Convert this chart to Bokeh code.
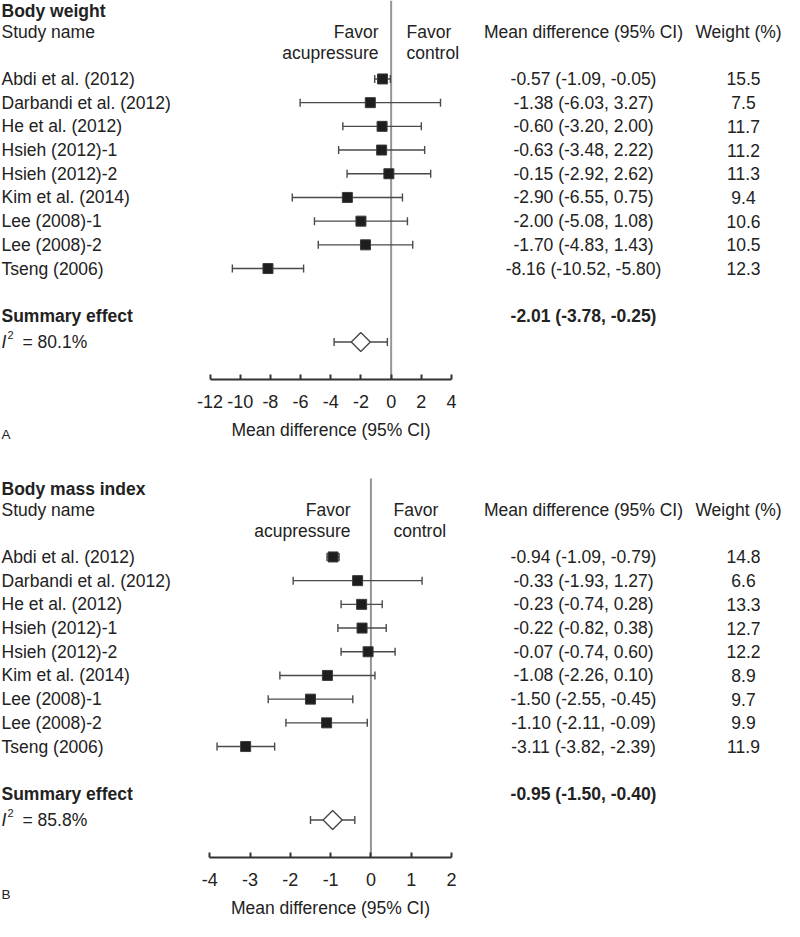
import math
from bokeh.plotting import figure
from bokeh.models import Range1d, LinearAxis, FixedTicker
from bokeh.layouts import column
from bokeh.embed import file_html
from bokeh.resources import INLINE
from bokeh.core.properties import value

# ---------------- data ----------------
studies = ["Abdi et al. (2012)", "Darbandi et al. (2012)", "He et al. (2012)",
           "Hsieh (2012)-1", "Hsieh (2012)-2", "Kim et al. (2014)",
           "Lee (2008)-1", "Lee (2008)-2", "Tseng (2006)"]

bw_md = [-0.57, -1.38, -0.60, -0.63, -0.15, -2.90, -2.00, -1.70, -8.16]
bw_lo = [-1.09, -6.03, -3.20, -3.48, -2.92, -6.55, -5.08, -4.83, -10.52]
bw_hi = [-0.05, 3.27, 2.00, 2.22, 2.62, 0.75, 1.08, 1.43, -5.80]
bw_w = [15.5, 7.5, 11.7, 11.2, 11.3, 9.4, 10.6, 10.5, 12.3]
bw_summary = [-2.01, -3.78, -0.25]
bw_i2 = "80.1%"
bw_ticks = [-12, -10, -8, -6, -4, -2, 0, 2, 4]
bw_tick_labels = ["-12", "-10", "-8", "-6", "-4", "-2", "0", "2", "4"]

bmi_md = [-0.94, -0.33, -0.23, -0.22, -0.07, -1.08, -1.50, -1.10, -3.11]
bmi_lo = [-1.09, -1.93, -0.74, -0.82, -0.74, -2.26, -2.55, -2.11, -3.82]
bmi_hi = [-0.79, 1.27, 0.28, 0.38, 0.60, 0.10, -0.45, -0.09, -2.39]
bmi_w = [14.8, 6.6, 13.3, 12.7, 12.2, 8.9, 9.7, 9.9, 11.9]
bmi_summary = [-0.95, -1.50, -0.40]
bmi_i2 = "85.8%"
bmi_ticks = [-4, -3, -2, -1, 0, 1, 2]
bmi_tick_labels = ["-4", "-3", "-2", "-1", "0", "1", "2"]

panel_titles = ["Body weight", "Body mass index"]
panel_letters = ["A", "B"]

# ---------------- style / layout ----------------
FONT = "Liberation Sans"
FS = "17.5px"
TXT = "#222222"
LINE = "#4a4a4a"
MD_X = 583
WH_X = 738
WV_X = 743
ROW_TOP = -3.31      # row value at top of the plotting region
AXIS_ROW = 12.68     # row value where the x axis is drawn


def fmt_ci(m, l, h):
    return f"{m:.2f} ({l:.2f}, {h:.2f})"


def panel(title, md, lo, hi, w, summ, i2, ticks, tick_labels, xr, yr, fh,
          favor_left_x, favor_right_x, letter, letter_row):
    p = figure(frame_width=784, frame_height=fh,
               x_range=Range1d(*xr), y_range=Range1d(*yr),
               output_backend="svg", toolbar_location=None,
               x_axis_location=None, y_axis_location=None,
               min_border_left=0, min_border_right=0,
               min_border_top=0, min_border_bottom=0,
               outline_line_color=None)
    p.grid.visible = False
    p.extra_x_ranges = {"cols": Range1d(0, 784)}

    n = len(studies)
    rows = list(range(n))

    tkw = dict(text_font=value(FONT), text_font_size=FS, text_color=TXT,
               text_baseline="middle", x_range_name="cols")

    # headers
    p.text(x=[1], y=[-2.86], text=[title], text_font_style="bold", **tkw)
    p.text(x=[1], y=[-1.98], text=["Study name"], **tkw)
    p.text(x=[favor_left_x, favor_left_x], y=[-1.98, -1.08],
           text=["Favor", "acupressure"], text_align="right", **tkw)
    p.text(x=[favor_right_x, favor_right_x], y=[-1.98, -1.08],
           text=["Favor", "control"], text_align="left", **tkw)
    p.text(x=[MD_X], y=[-1.98], text=["Mean difference (95% CI)"], text_align="center", **tkw)
    p.text(x=[WH_X], y=[-1.98], text=["Weight (%)"], text_align="center", **tkw)

    # study rows
    p.text(x=[1] * n, y=rows, text=studies, **tkw)
    p.text(x=[MD_X] * n, y=rows, text=[fmt_ci(m, l, h) for m, l, h in zip(md, lo, hi)],
           text_align="center", **tkw)
    p.text(x=[WV_X] * n, y=rows, text=[f"{v:.1f}" for v in w], text_align="center", **tkw)

    # summary rows
    srow = 10
    irow = 11.1
    p.text(x=[1], y=[srow], text=["Summary effect"], text_font_style="bold", **tkw)
    p.text(x=[MD_X], y=[srow], text=[fmt_ci(*summ)], text_font_style="bold",
           text_align="center", **tkw)
    p.text(x=[1], y=[irow], text=["I"], text_font_style="italic", **tkw)
    p.text(x=[7], y=[irow - 0.3], text=["2"], text_font=value(FONT), text_font_size="11px",
           text_color=TXT, text_baseline="middle", x_range_name="cols")
    p.text(x=[22], y=[irow], text=["= " + i2], **tkw)

    # panel letter
    p.text(x=[1], y=[letter_row], text=[letter], text_font=value(FONT),
           text_font_size="13.5px", text_color=TXT, text_baseline="middle",
           x_range_name="cols")

    # zero line (from top of plotting region down to the axis)
    p.segment(x0=[0], y0=[ROW_TOP], x1=[0], y1=[AXIS_ROW], line_color="#959595", line_width=2)

    # CIs
    p.segment(x0=lo, y0=rows, x1=hi, y1=rows, line_color=LINE, line_width=1.4)
    p.scatter(x=lo + hi, y=rows + rows, marker="dash", angle=math.pi / 2, size=8,
              line_color=LINE, line_width=1.4)
    p.scatter(x=md, y=rows, marker="square", size=10, fill_color="#1e1e1e",
              line_color="#3a3a3a", line_width=1)

    # summary diamond
    p.segment(x0=[summ[1]], y0=[irow], x1=[summ[2]], y1=[irow], line_color=LINE, line_width=1.4)
    p.scatter(x=[summ[1], summ[2]], y=[irow, irow], marker="dash", angle=math.pi / 2,
              size=8, line_color=LINE, line_width=1.4)
    p.scatter(x=[summ[0]], y=[irow], marker="square", angle=math.pi / 4, size=13.5,
              fill_color="white", line_color="#444444", line_width=1.3)

    # axis drawn inside the frame at a fixed location
    ax = LinearAxis(ticker=FixedTicker(ticks=ticks), bounds=(ticks[0], ticks[-1]),
                    axis_label="Mean difference (95% CI)", fixed_location=AXIS_ROW)
    ax.major_label_overrides = {t: s for t, s in zip(ticks, tick_labels)}
    ax.axis_line_color = "#333333"
    ax.axis_line_width = 2
    ax.major_tick_line_color = "#333333"
    ax.major_tick_line_width = 2
    ax.major_tick_in = 5
    ax.major_tick_out = 0
    ax.minor_tick_line_color = None
    ax.major_label_standoff = 16
    ax.major_label_text_font = FONT
    ax.major_label_text_font_size = "18px"
    ax.major_label_text_color = TXT
    ax.axis_label_text_font = FONT
    ax.axis_label_text_font_size = FS
    ax.axis_label_text_font_style = "normal"
    ax.axis_label_text_color = TXT
    ax.axis_label_standoff = 8
    p.add_layout(ax, "below")
    return p


p1 = panel(panel_titles[0], bw_md, bw_lo, bw_hi, bw_w, bw_summary, bw_i2,
           bw_ticks, bw_tick_labels, (-25.88, 26.06), (15.635, -3.31), 449,
           378, 406, panel_letters[0], 15.0)
p2 = panel(panel_titles[1], bmi_md, bmi_lo, bmi_hi, bmi_w, bmi_summary, bmi_i2,
           bmi_ticks, bmi_tick_labels, (-9.196, 10.268), (15.382, -4.534), 472,
           350, 393, panel_letters[1], 14.24)

layout = column(p1, p2, spacing=0)
open("out.html", "w").write(file_html(layout, INLINE))
